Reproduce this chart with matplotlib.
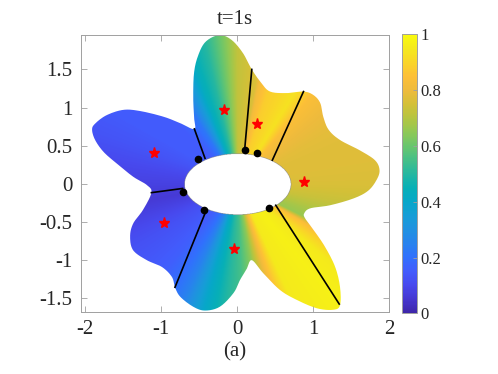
import numpy as np
import matplotlib
matplotlib.use('Agg')
import matplotlib.pyplot as plt
from matplotlib.colors import LinearSegmentedColormap
from matplotlib.path import Path
from matplotlib.patches import PathPatch

plt.rcParams['font.family'] = ['Liberation Serif', 'DejaVu Serif']

# outer boundary of the domain (counter-clockwise)
bnd_x = [-0.565, -0.75, -0.97, -1.28, -1.5, -1.72, -1.87, -1.91, -1.87, -1.76,
         -1.59, -1.37, -1.19, -1.13, -1.24, -1.37, -1.41, -1.37, -1.19, -0.99,
         -0.86, -0.82, -0.75, -0.58, -0.425, -0.23, -0.05, 0.035, 0.12, 0.19,
         0.34, 0.56, 0.78, 1.045, 1.26, 1.35, 1.35, 1.285, 1.15, 1.0,
         0.89, 0.88, 0.96, 1.22, 1.53, 1.72, 1.83, 1.87, 1.81, 1.61,
         1.35, 1.20, 1.13, 1.09, 1.0, 0.87, 0.65, 0.43, 0.31,
         0.19, 0.07, -0.08, -0.24, -0.42, -0.52, -0.57, -0.58, -0.57]
bnd_y = [0.72, 0.795, 0.88, 0.955, 0.97, 0.90, 0.79, 0.71, 0.575, 0.42,
         0.27, 0.094, -0.015, -0.115, -0.34, -0.52, -0.69, -0.87, -1.0, -1.09,
         -1.22, -1.355, -1.48, -1.61, -1.66, -1.61, -1.43, -1.26, -1.12, -1.0,
         -1.17, -1.39, -1.52, -1.63, -1.65, -1.59, -1.35, -1.085, -0.82, -0.60,
         -0.45, -0.385, -0.32, -0.28, -0.19, -0.09, 0.05, 0.18, 0.31, 0.44,
         0.575, 0.71, 0.88, 1.06, 1.165, 1.21, 1.19, 1.21, 1.33,
         1.50, 1.72, 1.89, 1.95, 1.86, 1.67, 1.45, 1.14, 0.88]

# elliptical hole
hole_a = 0.70
hole_b = 0.40

# cut lines
cut_x0 = [-0.425, 0.10, 0.46, -0.72, -0.41, 0.505]
cut_y0 = [0.335, 0.49, 0.31, -0.06, -0.35, -0.28]
cut_x1 = [-0.565, 0.19, 0.87, -1.13, -0.82, 1.34]
cut_y1 = [0.72, 1.50, 1.21, -0.115, -1.355, -1.575]

# black points on the hole
dot_x = [-0.52, 0.10, 0.255, -0.71, -0.44, 0.42]
dot_y = [0.32, 0.44, 0.41, -0.10, -0.34, -0.31]

# red stars
star_x = [-1.10, -0.175, 0.26, 0.88, -0.96, -0.04]
star_y = [0.41, 0.97, 0.78, 0.02, -0.51, -0.85]

# field value against polar angle (degrees)
ang_deg = [-180, -170, -150, -130, -121, -115, -105, -95, -88, -80, -72, -65,
           -50, -40, -30, -26, -20, -10, 0, 10, 20, 30, 40, 50, 58, 65, 72,
           78, 80, 84, 90, 97, 103, 110, 117, 122, 128, 135, 150, 160, 170, 180]
ang_val = [0.08, 0.06, 0.12, 0.16, 0.20, 0.25, 0.40, 0.50, 0.55, 0.65, 0.83, 0.95,
           0.97, 0.95, 0.84, 0.66, 0.68, 0.73, 0.76, 0.77, 0.77, 0.78, 0.80, 0.84, 0.93, 0.90, 0.88,
           0.82, 0.76, 0.75, 0.72, 0.60, 0.50, 0.43, 0.30, 0.22, 0.18, 0.15, 0.15, 0.13, 0.10, 0.08]

parula_pts = [
    (0.2422, 0.1504, 0.6603), (0.2738, 0.2157, 0.8177), (0.2813, 0.2863, 0.9321),
    (0.2617, 0.3599, 0.9898), (0.1919, 0.4408, 0.9926), (0.1568, 0.5126, 0.9318),
    (0.1258, 0.5703, 0.8807), (0.0867, 0.6185, 0.8407), (0.0266, 0.6567, 0.7866),
    (0.0276, 0.6884, 0.7153), (0.1463, 0.7183, 0.6289), (0.2713, 0.7494, 0.5311),
    (0.4121, 0.7751, 0.4283), (0.5633, 0.7858, 0.3333), (0.7079, 0.7726, 0.2555),
    (0.8307, 0.7540, 0.2176), (0.9324, 0.7332, 0.2389), (0.9922, 0.7510, 0.2166),
    (0.9781, 0.8373, 0.1574), (0.9594, 0.9139, 0.1128), (0.9763, 0.9831, 0.0538)]
parula = LinearSegmentedColormap.from_list('parula', parula_pts, N=256)


def closed_spline(x, y, n=12):
    p = np.column_stack([x, y])
    m = len(p)
    t = np.linspace(0, 1, n, endpoint=False)[:, None]
    out = []
    for i in range(m):
        p0, p1, p2, p3 = p[i - 1], p[i], p[(i + 1) % m], p[(i + 2) % m]
        seg = 0.5 * (2 * p1 + (-p0 + p2) * t + (2 * p0 - 5 * p1 + 4 * p2 - p3) * t ** 2
                     + (-p0 + 3 * p1 - 3 * p2 + p3) * t ** 3)
        out.append(seg)
    out = np.vstack(out)
    return np.vstack([out, out[:1]])


fig = plt.figure(figsize=(4.98, 3.74), dpi=100)
ax = fig.add_axes([0.162, 0.1666, 0.620, 0.7406])

xlim = (-2.06, 2.0)
ylim = (-1.675, 1.955)
xs = np.linspace(xlim[0], xlim[1], 900)
ys = np.linspace(ylim[0], ylim[1], 800)
X, Y = np.meshgrid(xs, ys)
C = np.interp(np.degrees(np.arctan2(Y, X)), ang_deg, ang_val, period=360)
C = np.ma.masked_where((X / hole_a) ** 2 + (Y / hole_b) ** 2 < 1, C)

outline = closed_spline(bnd_x, bnd_y)
patch = PathPatch(Path(outline), facecolor='none', edgecolor='none')
ax.add_patch(patch)
im = ax.imshow(C, extent=[xlim[0], xlim[1], ylim[0], ylim[1]], origin='lower',
               cmap=parula, vmin=0, vmax=1, interpolation='bilinear', aspect='auto')
im.set_clip_path(patch)

for i in range(len(cut_x0)):
    ax.plot([cut_x0[i], cut_x1[i]], [cut_y0[i], cut_y1[i]], color='black', lw=1.2)
ax.plot(dot_x, dot_y, 'o', color='black', ms=4.5)
ax.plot(star_x, star_y, '*', color='red', mec='red', ms=8)

ax.set_xlim(xlim)
ax.set_ylim(ylim)
ax.set_xticks([-2, -1, 0, 1, 2])
ax.set_xticklabels(['-2', '-1', '0', '1', '2'])
ax.set_yticks([-1.5, -1, -0.5, 0, 0.5, 1, 1.5])
ax.set_yticklabels(['-1.5', '-1', '-0.5', '0', '0.5', '1', '1.5'])
ax.tick_params(direction='in', top=True, right=True, length=4, width=0.6,
               color='#a0a0a0', labelsize=15, labelcolor='#262626', pad=6)
for s in ax.spines.values():
    s.set_color('#a0a0a0')
    s.set_linewidth(0.7)
ax.set_title('t=1s', fontsize=15, color='#262626', pad=8)
ax.set_xlabel('(a)', fontsize=15, color='#262626', labelpad=2)

cax = fig.add_axes([0.807, 0.162, 0.0295, 0.747])
cb = fig.colorbar(im, cax=cax)
cb.set_ticks([0, 0.2, 0.4, 0.6, 0.8, 1])
cb.set_ticklabels(['0', '0.2', '0.4', '0.6', '0.8', '1'])
cax.tick_params(direction='in', length=3, width=0.6, color='#a0a0a0',
                labelsize=12, labelcolor='#262626', pad=3)
cb.outline.set_edgecolor('#a0a0a0')
cb.outline.set_linewidth(0.7)

fig.savefig('out.png', dpi=100)
